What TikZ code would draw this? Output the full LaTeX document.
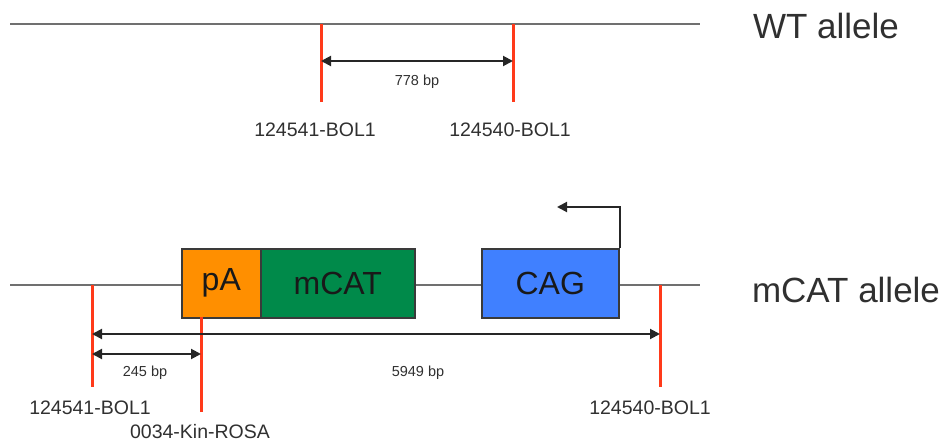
\documentclass[tikz,border=0pt]{standalone}
\usepackage{fontspec}
\setmainfont{Liberation Sans}
\usetikzlibrary{arrows.meta,positioning}
\definecolor{ink}{HTML}{303030}
\definecolor{wire}{HTML}{707070}
\definecolor{edge}{HTML}{3A3A3A}
\definecolor{cutred}{HTML}{FF3A1A}
\definecolor{paorange}{HTML}{FF8F00}
\definecolor{catgreen}{HTML}{008A4A}
\definecolor{cagblue}{HTML}{4080FF}

\begin{document}
\begin{tikzpicture}[x=1pt,y=-1pt,
  every node/.style={text=ink,inner sep=0pt},
  backbone/.style={draw=wire,line width=2.2pt},
  cut/.style={draw=cutred,line width=3pt},
  dist/.style={{Triangle[length=10pt,width=10pt]}-{Triangle[length=10pt,width=10pt]},line width=2pt,draw=black!85},
  elem/.style={draw=edge,line width=1.6pt,minimum height=69pt,anchor=north west,text=black!90,font=\fontsize{32}{36}\selectfont},
  primer/.style={font=\fontsize{19.5}{23}\selectfont},
  bplabel/.style={font=\fontsize{14.5}{17}\selectfont},
  allele/.style={font=\fontsize{35}{40}\selectfont}]
\useasboundingbox (0,0) rectangle (942,443);
% WT allele
\coordinate (wl) at (10,24);
\coordinate (wr) at (700,24);
\draw[backbone] (wl) -- (wr);
\coordinate (w1) at (321,24); \coordinate (w1e) at (321,102);
\coordinate (w2) at (513,24); \coordinate (w2e) at (513,102);
\foreach \a/\b in {w1/w1e,w2/w2e}{\draw[cut] (\a)--(\b);}
\coordinate (wa) at (321,61); \coordinate (wb) at (513,61);
\draw[dist] (wa) -- (wb);
\node[bplabel] (wbp) at (417,82) {778 bp};
\node[primer] (wp1) at (315,130) {124541-BOL1};
\node[primer] (wp2) at (510,130) {124540-BOL1};
\node[allele] (wt) at (826,26) {WT allele};
% mCAT allele
\coordinate (ml) at (10,285);
\coordinate (mr) at (700,285);
\draw[backbone] (ml) -- (mr);
\node[elem,fill=paorange,minimum width=79pt] (pa) at (181,248) {pA};
\node[elem,fill=catgreen,minimum width=154pt] (mcat) at (260,248) {mCAT};
\node[elem,fill=cagblue,minimum width=137pt] (cag) at (481,248) {CAG};
\coordinate (tss) at (557,207);
\draw[line width=2pt,draw=black!85,-{Triangle[length=10pt,width=10pt]}] (cag.north east) |- (tss);
\coordinate (m1) at (92,285); \coordinate (m1e) at (92,387);
\coordinate (m2) at (201,317); \coordinate (m2e) at (201,412);
\coordinate (m3) at (660,285); \coordinate (m3e) at (660,387);
\foreach \a/\b in {m1/m1e,m2/m2e,m3/m3e}{\draw[cut] (\a)--(\b);}
\coordinate (la) at (92,334); \coordinate (lb) at (660,334);
\coordinate (sa) at (92,354); \coordinate (sb) at (201,354);
\foreach \a/\b in {la/lb,sa/sb}{\draw[dist] (\a)--(\b);}
\node[bplabel] (sbp) at (145,373) {245 bp};
\node[bplabel] (lbp) at (418,373) {5949 bp};
\node[primer] (mp1) at (90,408) {124541-BOL1};
\node[primer] (mp2) at (200,432) {0034-Kin-ROSA};
\node[primer] (mp3) at (650,408) {124540-BOL1};
\node[allele] (mc) at (846,290) {mCAT allele};
\end{tikzpicture}
\end{document}
